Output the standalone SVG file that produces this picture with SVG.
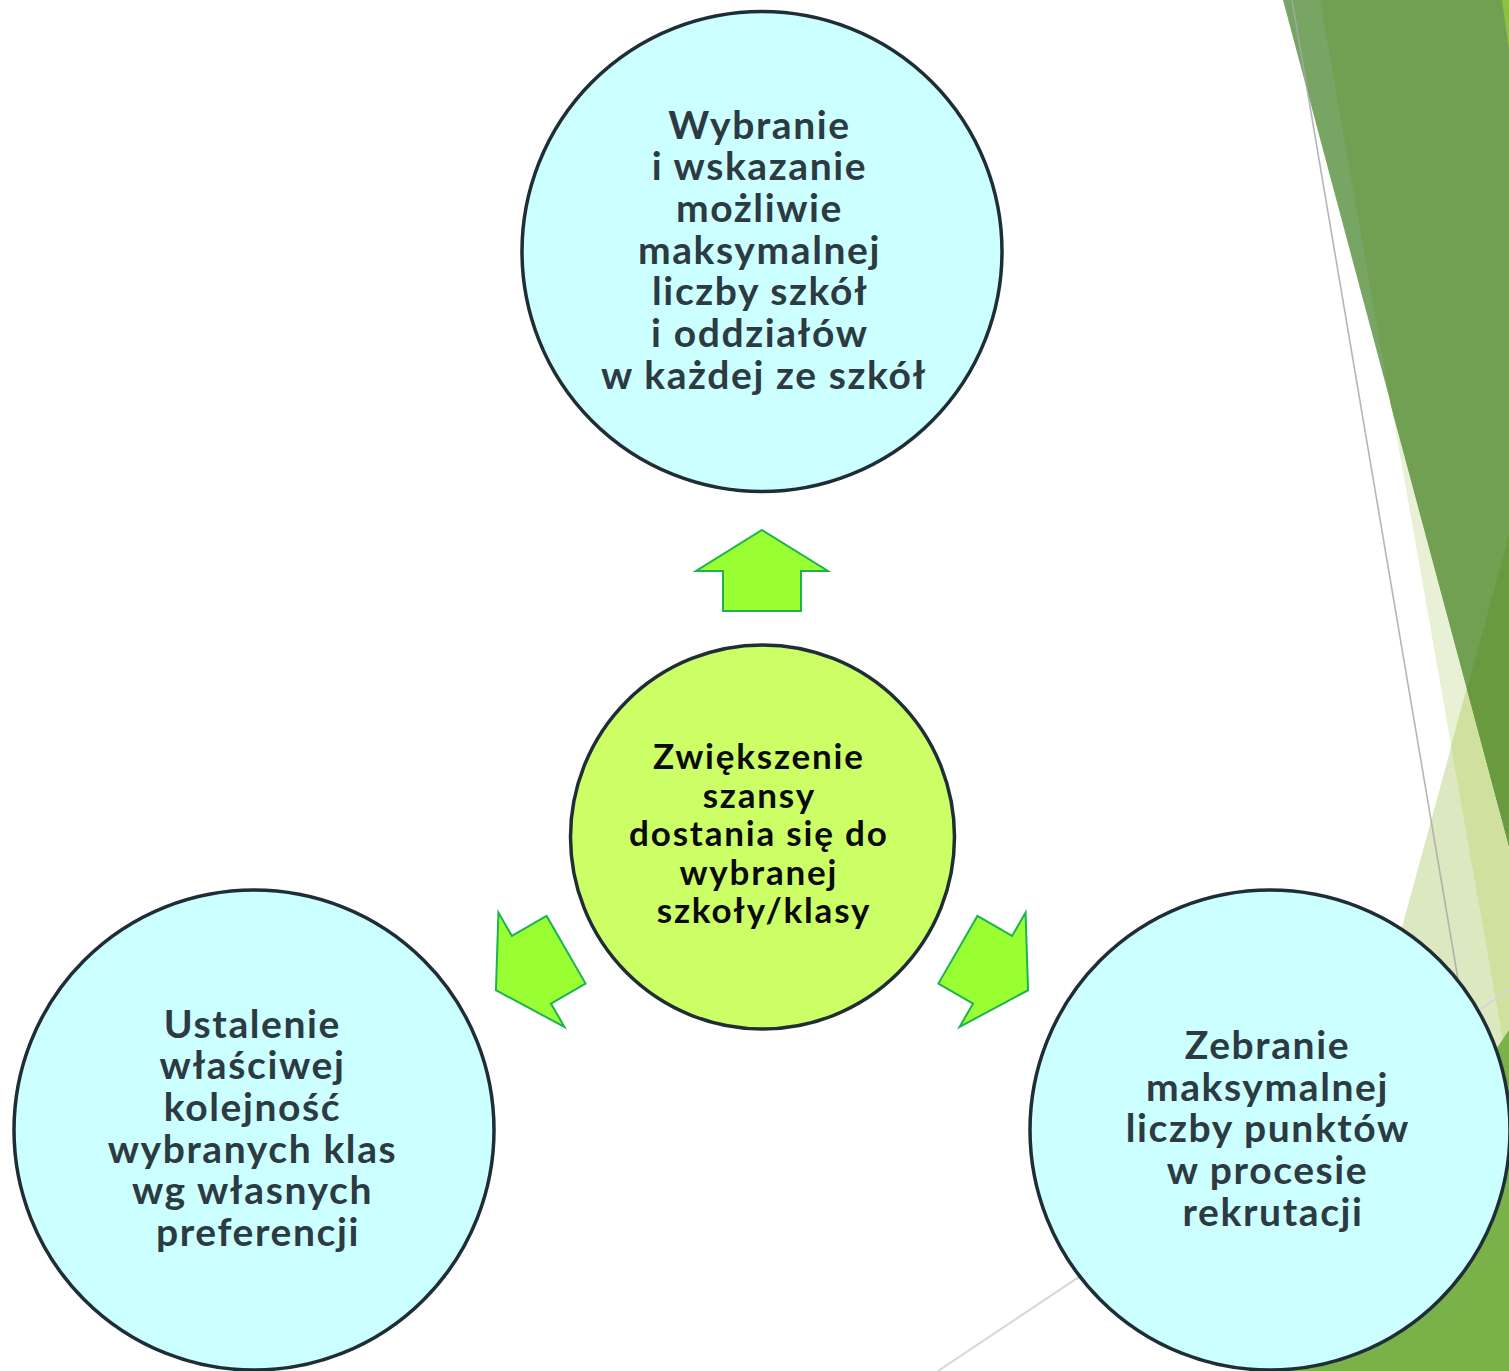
<svg xmlns="http://www.w3.org/2000/svg" width="1509" height="1371" viewBox="0 0 1509 1371">
<style>
.circ{stroke:#1f2e36;stroke-width:3.5}
.outer{fill:#ccffff}
.inner{fill:#ccff66}
.t{font-family:Lato,"Liberation Sans",sans-serif;font-weight:bold;text-anchor:middle}
.to{fill:#2c3a42;font-size:39px;letter-spacing:1.6px}
.ti{fill:#0a0a0a;font-size:35px;letter-spacing:1.8px}
.arrow{fill:#99ff33;stroke:#1db34f;stroke-width:2;stroke-linejoin:miter}
</style>
<defs>
<path id="arr" d="M0,-40.5 L66,0.5 L39,0.5 L39,40.5 L-39,40.5 L-39,0.5 L-66,0.5 Z"/>
</defs>
<rect width="1509" height="1371" fill="#ffffff"/>
<g id="background">
<polygon points="1320,0 1509,0 1509,1074" fill="#e8f0d6"/>
<polygon points="1509,535 1509,1371 1281,1371" fill="#dce8bf"/>
<polygon points="1509,535 1451,746 1509,1074" fill="#cfe09f"/>
<polygon points="1283,0 1509,0 1509,846" fill="#77a563"/>
<polygon points="1320,0 1509,0 1509,846 1391,406" fill="#71a053"/>
<polygon points="1509,535 1467,689 1509,846" fill="#6a9a3f"/>
<polygon points="1509,1030 1509,1371 1280,1371" fill="#7ab24a"/>
<polygon points="1502,0 1509,0 1509,50" fill="#8dc13f"/>
<line x1="1292" y1="0" x2="1470" y2="1050" stroke="#a8a8a8" stroke-width="1.6" stroke-opacity="0.85"/>
<line x1="1509" y1="990" x2="938" y2="1371" stroke="#d6d6d6" stroke-width="2"/>
</g>
<g id="connectors">
<use href="#arr" class="arrow" transform="translate(762,570.5)"/>
<use href="#arr" class="arrow" transform="translate(531,970) rotate(-120)"/>
<use href="#arr" class="arrow" transform="translate(993,970) rotate(120)"/>
</g>
<g id="node-top">
<circle class="circ outer" cx="762" cy="251.5" r="240"/>
<text class="t to">
<tspan x="765" y="138.5">Wybranie</tspan>
<tspan x="765" y="180.2">i wskazanie</tspan>
<tspan x="765" y="221.9">możliwie</tspan>
<tspan x="765" y="263.6">maksymalnej</tspan>
<tspan x="765" y="305.3">liczby szkół</tspan>
<tspan x="765" y="347">i oddziałów</tspan>
<tspan x="764" y="388.7">w każdej ze szkół</tspan>
</text>
</g>
<g id="node-center">
<circle class="circ inner" cx="762.5" cy="837" r="192"/>
<text class="t ti">
<tspan x="764" y="769">Zwiększenie</tspan>
<tspan x="764" y="807.5">szansy</tspan>
<tspan x="764" y="846">dostania się do</tspan>
<tspan x="764" y="884.5">wybranej</tspan>
<tspan x="764" y="923">szkoły/klasy</tspan>
</text>
</g>
<g id="node-left">
<circle class="circ outer" cx="254" cy="1130" r="240"/>
<text class="t to">
<tspan x="258" y="1037.5">Ustalenie</tspan>
<tspan x="258" y="1079.2">właściwej</tspan>
<tspan x="258" y="1120.9">kolejność</tspan>
<tspan x="258" y="1162.6">wybranych klas</tspan>
<tspan x="258" y="1204.3">wg własnych</tspan>
<tspan x="258" y="1246">preferencji</tspan>
</text>
</g>
<g id="node-right">
<circle class="circ outer" cx="1270" cy="1130" r="240"/>
<text class="t to">
<tspan x="1273" y="1059">Zebranie</tspan>
<tspan x="1273" y="1100.7">maksymalnej</tspan>
<tspan x="1273" y="1142.4">liczby punktów</tspan>
<tspan x="1273" y="1184.1">w procesie</tspan>
<tspan x="1273" y="1225.8">rekrutacji</tspan>
</text>
</g>
</svg>
